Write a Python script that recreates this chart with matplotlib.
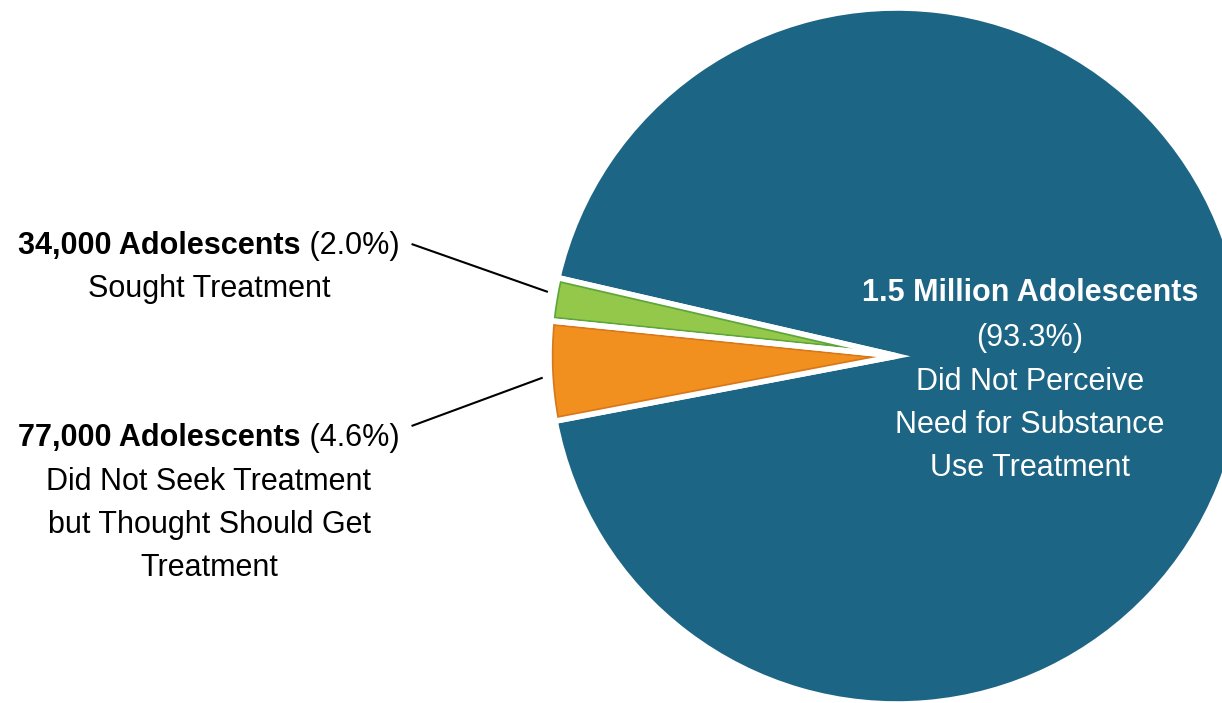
import numpy as np
import matplotlib.pyplot as plt
from matplotlib.patches import Wedge

# slice data (share of adolescents needing substance use treatment)
shares = [2.0, 4.6, 93.3]
colors = ["#93c84b", "#f1901f", "#1d6584"]
edge_dark = ["#5ea53a", "#d9781a"]

green_bold = "34,000 Adolescents"
green_pct = " (2.0%)"
green_lines = ["Sought Treatment"]

orange_bold = "77,000 Adolescents"
orange_pct = " (4.6%)"
orange_lines = ["Did Not Seek Treatment", "but Thought Should Get", "Treatment"]

blue_bold = "1.5 Million Adolescents"
blue_lines = ["(93.3%)", "Did Not Perceive", "Need for Substance", "Use Treatment"]

W, H = 1222, 703
FONT = ["Liberation Sans", "DejaVu Sans"]
FS = 22
STEP = 43.5


def py(y):
    # pixel row (from top) -> data y
    return H - y


fig = plt.figure(figsize=(W / 100, H / 100), dpi=100)
ax = fig.add_axes([0, 0, 1, 1])

wedges, _ = ax.pie(shares, colors=colors, startangle=167, counterclock=True,
                   center=(897, py(356)), radius=348, frame=True,
                   wedgeprops=dict(edgecolor="white", linewidth=4))
ax.set_xlim(0, W)
ax.set_ylim(0, H)
ax.set_aspect("equal")
ax.axis("off")

# thin darker rim inside the small slices, then the white gap on top again
for w, ec in zip(wedges[:2], edge_dark):
    rim = Wedge(w.center, w.r, w.theta1, w.theta2, facecolor="none",
                edgecolor=ec, linewidth=6.5)
    ax.add_patch(rim)
    rim.set_clip_path(w)
for w in wedges[:2]:
    ax.add_patch(Wedge(w.center, w.r, w.theta1, w.theta2, facecolor="none",
                       edgecolor="white", linewidth=4))

renderer = fig.canvas.get_renderer()


def mixed_line(cx, y, bold, regular, color="black"):
    tb = ax.text(0, 0, bold, fontsize=FS, fontweight="bold", family=FONT)
    tr = ax.text(0, 0, regular, fontsize=FS, family=FONT)
    wb = tb.get_window_extent(renderer).width
    wr = tr.get_window_extent(renderer).width
    x0 = cx - (wb + wr) / 2
    for t, x in ((tb, x0), (tr, x0 + wb)):
        t.set_position((x, py(y)))
        t.set_va("center")
        t.set_color(color)
    return x0 + wb + wr


def plain_lines(cx, y0, lines, color="black"):
    for i, s in enumerate(lines):
        ax.text(cx, py(y0 + i * STEP), s, fontsize=FS, family=FONT,
                ha="center", va="center", color=color)


def leader(x_text, y_text, wedge, angle_shift=0.0, rfac=1.02):
    mid = np.deg2rad((wedge.theta1 + wedge.theta2) / 2 + angle_shift)
    cx, cy = wedge.center
    xe = cx + wedge.r * rfac * np.cos(mid)
    ye = cy + wedge.r * rfac * np.sin(mid)
    ax.plot([x_text, xe], [py(y_text), ye], color="black", lw=1.5,
            solid_capstyle="butt")


# green label
xr = mixed_line(209, 246, green_bold, green_pct)
plain_lines(209, 246 + STEP, green_lines)
leader(xr + 12, 244, wedges[0], -1.0)

# orange label
xr = mixed_line(209, 438, orange_bold, orange_pct)
plain_lines(209, 438 + STEP, orange_lines)
leader(xr + 12, 426, wedges[1], 1.0)

# blue label
ax.text(1030, py(293), blue_bold, fontsize=FS, fontweight="bold",
        family=FONT, ha="center", va="center", color="white")
plain_lines(1030, 293 + 45, blue_lines, color="white")

fig.savefig("out.png", dpi=100)
